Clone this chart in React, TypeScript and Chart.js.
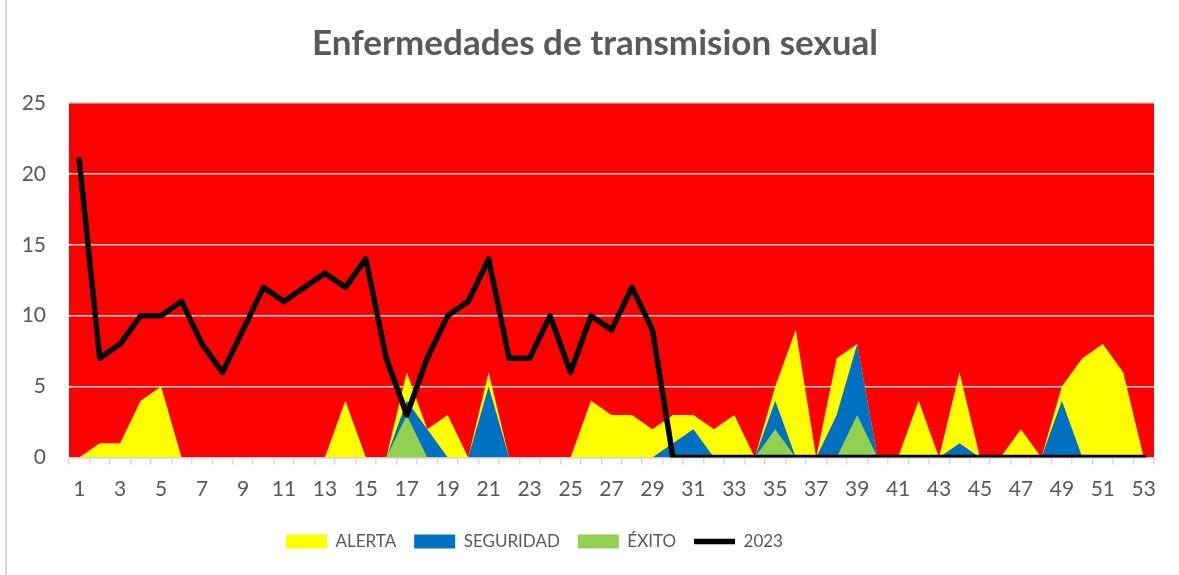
import { useEffect, useRef } from 'react';
import { Chart, registerables } from 'chart.js';

Chart.register(...registerables);

const weeks = [
  '1', '2', '3', '4', '5', '6', '7', '8', '9', '10',
  '11', '12', '13', '14', '15', '16', '17', '18', '19', '20',
  '21', '22', '23', '24', '25', '26', '27', '28', '29', '30',
  '31', '32', '33', '34', '35', '36', '37', '38', '39', '40',
  '41', '42', '43', '44', '45', '46', '47', '48', '49', '50',
  '51', '52', '53',
];

const alerta = [
  0, 1, 1, 4, 5, 0, 0, 0, 0, 0,
  0, 0, 0, 4, 0, 0, 6, 2, 3, 0,
  6, 0, 0, 0, 0, 4, 3, 3, 2, 3,
  3, 2, 3, 0, 5, 9, 0, 7, 8, 0,
  0, 4, 0, 6, 0, 0, 2, 0, 5, 7,
  8, 6, 0,
];

const seguridad = [
  0, 0, 0, 0, 0, 0, 0, 0, 0, 0,
  0, 0, 0, 0, 0, 0, 4, 2, 0, 0,
  5, 0, 0, 0, 0, 0, 0, 0, 0, 1,
  2, 0, 0, 0, 4, 0, 0, 3, 8, 0,
  0, 0, 0, 1, 0, 0, 0, 0, 4, 0,
  0, 0, 0,
];

const exito = [
  0, 0, 0, 0, 0, 0, 0, 0, 0, 0,
  0, 0, 0, 0, 0, 0, 3, 0, 0, 0,
  0, 0, 0, 0, 0, 0, 0, 0, 0, 0,
  0, 0, 0, 0, 2, 0, 0, 0, 3, 0,
  0, 0, 0, 0, 0, 0, 0, 0, 0, 0,
  0, 0, 0,
];

const casos2023 = [
  21, 7, 8, 10, 10, 11, 8, 6, 9, 12,
  11, 12, 13, 12, 14, 7, 3, 7, 10, 11,
  14, 7, 7, 10, 6, 10, 9, 12, 9, 0,
  0, 0, 0, 0, 0, 0, 0, 0, 0, 0,
  0, 0, 0, 0, 0, 0, 0, 0, 0, 0,
  0, 0, 0,
];

const TEXT = '#595959';
const GRID = '#d9d9d9';
const BODY_FONT = "Lato, 'Open Sans', sans-serif";
const LEGEND_DX = -42.5;
const TITLE_DX = 18;

const plotBackground = {
  id: 'plotBackground',
  beforeDraw(chart: any) {
    const { ctx, chartArea: a } = chart;
    if (!a) return;
    ctx.save();
    ctx.fillStyle = '#FF0000';
    ctx.fillRect(a.left, a.top, a.right - a.left, a.bottom - a.top);
    ctx.restore();
  },
};

const boxShift = {
  id: 'boxShift',
  afterLayout(chart: any) {
    const lg = chart.legend;
    if (lg) {
      lg.left += LEGEND_DX;
      lg.right += LEGEND_DX;
    }
    const tb = chart.titleBlock;
    if (tb) {
      tb.left += TITLE_DX;
      tb.right += TITLE_DX;
    }
  },
};

export default function App() {
  const canvasRef = useRef<HTMLCanvasElement | null>(null);

  useEffect(() => {
    const canvas = canvasRef.current;
    if (!canvas) return;
    const chart = new Chart(canvas, {
      type: 'line',
      data: {
        labels: weeks,
        datasets: [
          {
            label: 'ALERTA',
            data: alerta,
            fill: 'origin',
            backgroundColor: '#FFFF00',
            borderColor: '#FFFF00',
            borderWidth: 0,
            pointRadius: 0,
            pointStyle: 'rect',
            tension: 0,
            order: 4,
          },
          {
            label: 'SEGURIDAD',
            data: seguridad,
            fill: 'origin',
            backgroundColor: '#0070C0',
            borderColor: '#0070C0',
            borderWidth: 0,
            pointRadius: 0,
            pointStyle: 'rect',
            tension: 0,
            order: 3,
          },
          {
            label: 'ÉXITO',
            data: exito,
            fill: 'origin',
            backgroundColor: '#92D050',
            borderColor: '#92D050',
            borderWidth: 0,
            pointRadius: 0,
            pointStyle: 'rect',
            tension: 0,
            order: 2,
          },
          {
            label: '2023',
            data: casos2023,
            fill: false,
            backgroundColor: '#000000',
            borderColor: '#000000',
            borderWidth: 5.5,
            borderCapStyle: 'round',
            borderJoinStyle: 'round',
            pointRadius: 0,
            pointStyle: 'line',
            tension: 0,
            order: 1,
          },
        ] as any,
      },
      options: {
        responsive: false,
        animation: false,
        events: [],
        layout: { padding: { left: 0, right: 25, top: 0, bottom: 15 } },
        plugins: {
          title: {
            display: true,
            text: 'Enfermedades de transmision sexual',
            color: TEXT,
            font: { family: BODY_FONT, size: 35, weight: 'bold' },
            padding: { top: 23, bottom: 38 },
          },
          legend: {
            display: true,
            position: 'bottom',
            labels: {
              usePointStyle: true,
              pointStyleWidth: 41,
              boxHeight: 14,
              padding: 18,
              color: TEXT,
              font: { family: BODY_FONT, size: 17 },
              sort: (a: any, b: any) => a.datasetIndex - b.datasetIndex,
            },
          },
          tooltip: { enabled: false },
        },
        scales: {
          x: {
            type: 'category',
            offset: true,
            grid: {
              offset: true,
              drawOnChartArea: false,
              drawTicks: true,
              tickLength: 7,
              color: GRID,
              lineWidth: 1.5,
            },
            border: { display: true, color: GRID, width: 1.5 },
            ticks: {
              autoSkip: false,
              maxRotation: 0,
              minRotation: 0,
              padding: 12,
              color: TEXT,
              font: { family: BODY_FONT, size: 21 },
              callback: (_v: any, i: number) => (i % 2 === 0 ? weeks[i] : ''),
            },
            afterFit: (s: any) => {
              s.height = 57.5;
            },
          },
          y: {
            min: 0,
            max: 25,
            ticks: {
              stepSize: 5,
              padding: 23,
              color: TEXT,
              font: { family: BODY_FONT, size: 21 },
            },
            grid: { color: GRID, lineWidth: 1.5, drawTicks: false },
            border: { display: false },
            afterFit: (s: any) => {
              s.width = 69;
            },
          },
        },
      } as any,
      plugins: [plotBackground, boxShift],
    });
    return () => chart.destroy();
  }, []);

  return (
    <div style={{ position: 'absolute', left: 0, top: 0, width: 1179, height: 575, background: '#ffffff' }}>
      <div style={{ position: 'absolute', left: 5, top: 0, width: 1.5, height: 575, background: GRID }} />
      <canvas ref={canvasRef} width={1179} height={575} style={{ position: 'absolute', left: 0, top: 0 }} />
    </div>
  );
}
